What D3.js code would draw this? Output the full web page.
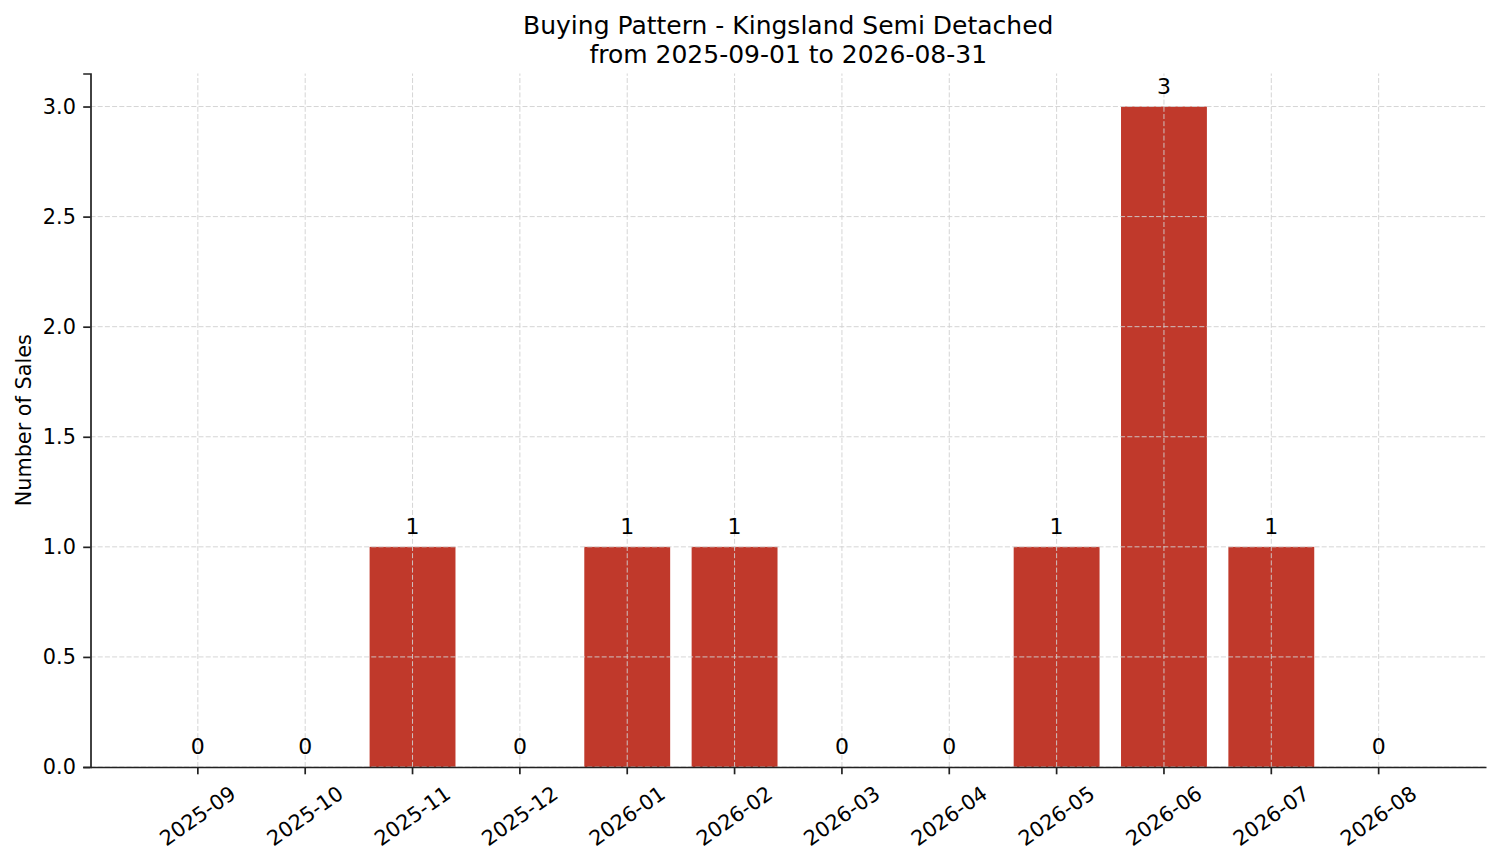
<!DOCTYPE html>
<html>
<head>
<meta charset="utf-8">
<script src="https://cdn.jsdelivr.net/npm/d3@7"></script>
<style>
  body { margin: 0; background: #fff; }
  svg { font-family: "DejaVu Sans", sans-serif; }
</style>
</head>
<body>
<script>
var months = ["2025-09", "2025-10", "2025-11", "2025-12", "2026-01", "2026-02",
              "2026-03", "2026-04", "2026-05", "2026-06", "2026-07", "2026-08"];
var sales = [0, 0, 1, 0, 1, 1, 0, 0, 1, 3, 1, 0];
var yTicks = [0, 0.5, 1.0, 1.5, 2.0, 2.5, 3.0];
var titleLines = ["Buying Pattern - Kingsland Semi Detached", "from 2025-09-01 to 2026-08-31"];

var width = 1501, height = 863;
var margin = {top: 73.5, right: 15, bottom: 96, left: 90.5};

var svg = d3.select("body").append("svg")
    .attr("width", width)
    .attr("height", height);

var x = d3.scaleBand()
    .domain(months)
    .range([margin.left, width - margin.right])
    .paddingInner(0.2)
    .paddingOuter(0.6);

var y = d3.scaleLinear()
    .domain([0, 3.15])
    .range([height - margin.bottom, margin.top]);

var data = months.map(function(m, i) { return {month: m, value: sales[i]}; });

// bars
svg.selectAll(".bar")
    .data(data)
    .enter().append("rect")
    .attr("class", "bar")
    .attr("x", function(d) { return x(d.month); })
    .attr("y", function(d) { return y(d.value); })
    .attr("width", x.bandwidth())
    .attr("height", function(d) { return y(0) - y(d.value); })
    .attr("fill", "#c0392b");

// grid (drawn over the bars)
var grid = svg.append("g").attr("class", "grid")
    .attr("stroke", "#d0d0d0")
    .attr("stroke-width", 0.9)
    .attr("stroke-dasharray", "5,2.2");

grid.selectAll(".gx")
    .data(months)
    .enter().append("line")
    .attr("x1", function(d) { return x(d) + x.bandwidth() / 2; })
    .attr("x2", function(d) { return x(d) + x.bandwidth() / 2; })
    .attr("y1", y.range()[0])
    .attr("y2", y.range()[1]);

grid.selectAll(".gy")
    .data(yTicks)
    .enter().append("line")
    .attr("x1", margin.left)
    .attr("x2", width - margin.right)
    .attr("y1", function(d) { return y(d); })
    .attr("y2", function(d) { return y(d); });

// value labels
svg.selectAll(".vlabel")
    .data(data)
    .enter().append("text")
    .attr("class", "vlabel")
    .attr("x", function(d) { return x(d.month) + x.bandwidth() / 2; })
    .attr("y", function(d) { return y(d.value + 0.05); })
    .attr("dy", "-0.08em")
    .attr("text-anchor", "middle")
    .style("font-size", "22px")
    .text(function(d) { return d.value; });

// y axis
var yAxis = svg.append("g")
    .attr("transform", "translate(" + margin.left + ",0)")
    .call(d3.axisLeft(y).tickValues(yTicks).tickFormat(d3.format(".1f"))
        .tickSize(7.3).tickPadding(7.3));
yAxis.select(".domain").attr("stroke", "#222").attr("stroke-width", 1.7);
yAxis.selectAll(".tick line").attr("stroke", "#222").attr("stroke-width", 1.7);
yAxis.selectAll(".tick text")
    .style("font-size", "20.8px")
    .style("font-family", "DejaVu Sans")
    .attr("fill", "#000");

// x axis
var xAxis = svg.append("g")
    .attr("transform", "translate(0," + y(0) + ")")
    .call(d3.axisBottom(x).tickSize(7.3).tickSizeOuter(0));
xAxis.select(".domain").attr("stroke", "#222").attr("stroke-width", 1.7);
xAxis.selectAll(".tick line").attr("stroke", "#222").attr("stroke-width", 1.7);
xAxis.selectAll(".tick text")
    .style("font-size", "20.8px")
    .style("font-family", "DejaVu Sans")
    .attr("fill", "#000")
    .attr("y", 0)
    .attr("dy", null)
    .attr("dominant-baseline", "central")
    .attr("text-anchor", "middle")
    .attr("transform", "translate(0,49) rotate(-35)");

// axis title
svg.append("text")
    .attr("transform", "translate(31," + ((y.range()[0] + y.range()[1]) / 2) + ") rotate(-90)")
    .attr("text-anchor", "middle")
    .style("font-size", "20.8px")
    .text("Number of Sales");

// chart title
svg.selectAll(".title")
    .data(titleLines)
    .enter().append("text")
    .attr("class", "title")
    .attr("x", (margin.left + width - margin.right) / 2)
    .attr("y", function(d, i) { return 34 + i * 29; })
    .attr("text-anchor", "middle")
    .style("font-size", "25px")
    .text(function(d) { return d; });
</script>
</body>
</html>
